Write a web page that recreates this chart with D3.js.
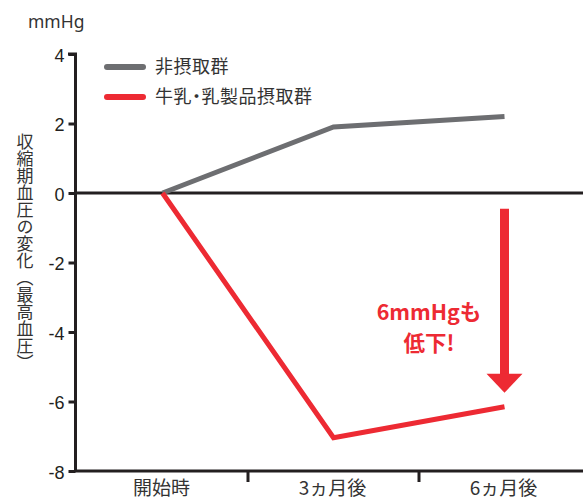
<!DOCTYPE html>
<html><head><meta charset="utf-8">
<script src="https://cdn.jsdelivr.net/npm/d3@7"></script>
<style>
html,body{margin:0;padding:0;background:#fff;}
svg{display:block;font-family:"Noto Sans CJK JP","Noto Sans",sans-serif;}
</style></head>
<body>
<svg id="c" width="583" height="501"></svg>
<script>
const categories = ["開始時", "3ヵ月後", "6ヵ月後"];
const seriesNames = ["非摂取群", "牛乳・乳製品摂取群"];
const nonIntake = [0, 1.9, 2.2];
const dairyIntake = [0, -7.04, -6.15];
const yTicks = [4, 2, 0, -2, -4, -6, -8];
const unitLabel = "mmHg";
const yTitle = "収縮期血圧の変化（最高血圧）";
const noteLines = ["6mmHgも", "低下!"];

const colors = ["#6d6e71", "#ed2a33"];
const dark = "#231f20";

const svg = d3.select("#c");
const x = d3.scaleBand().domain(categories).range([77, 590]).paddingInner(0).paddingOuter(0);
const y = d3.scaleLinear().domain([-8, 4]).range([471, 54]);
const xc = c => x(c) + x.bandwidth() / 2;

// zero line
svg.append("line").attr("x1", 75).attr("x2", 583)
  .attr("y1", y(0)).attr("y2", y(0)).attr("stroke", dark).attr("stroke-width", 3);

// y axis
const yAxis = d3.axisLeft(y).tickValues(yTicks).tickSize(7).tickPadding(4).tickFormat(d => String(d));
const gy = svg.append("g").attr("transform", "translate(75.5,0)").call(yAxis);
gy.select(".domain").remove();
gy.selectAll(".tick line").attr("stroke", dark).attr("stroke-width", 3);
gy.selectAll(".tick text").attr("fill", dark).attr("font-size", 18)
  .attr("font-family", "'Liberation Sans', Arial, sans-serif").attr("dy", "0.4em");
svg.append("path").attr("d", `M${68},${y(4)}H75.5V${y(-8) + 1}`)
  .attr("fill", "none").attr("stroke", dark).attr("stroke-width", 3);

// x axis
const gx = svg.append("g").attr("transform", `translate(0,${y(-8)})`);
gx.append("line").attr("x1", 75).attr("x2", 583).attr("stroke", dark).attr("stroke-width", 3);
gx.selectAll(".tk").data(categories.slice(1)).enter().append("line")
  .attr("x1", d => x(d)).attr("x2", d => x(d)).attr("y1", 0).attr("y2", 11)
  .attr("stroke", dark).attr("stroke-width", 3);
gx.selectAll(".lb").data(categories).enter().append("text")
  .attr("x", d => xc(d) - 1).attr("y", 24).attr("text-anchor", "middle")
  .attr("font-size", 19).attr("fill", "#333").text(d => d);

// unit
svg.append("text").attr("x", 28).attr("y", 28).attr("font-size", 17.5)
  .attr("font-family", "'Noto Sans', sans-serif").attr("fill", "#333").text(unitLabel);

// y title (vertical)
svg.append("text").attr("x", 25).attr("y", 133)
  .attr("writing-mode", "vertical-rl").style("writing-mode", "vertical-rl")
  .attr("font-size", 17).attr("fill", "#333").text(yTitle);

// lines
const line = d3.line().x((d, i) => xc(categories[i])).y(d => y(d));
[nonIntake, dairyIntake].forEach((s, i) => {
  svg.append("path").datum(s).attr("d", line).attr("fill", "none")
    .attr("stroke", colors[i]).attr("stroke-width", 5).attr("stroke-linejoin", "miter");
});

// legend
const lg = svg.append("g");
seriesNames.forEach((n, i) => {
  const yy = 67 + i * 30;
  lg.append("line").attr("x1", 107).attr("x2", 143).attr("y1", yy).attr("y2", yy)
    .attr("stroke", colors[i]).attr("stroke-width", 6).attr("stroke-linecap", "round");
  lg.append("text").attr("x", 155).attr("y", yy + 6).attr("font-size", 18)
    .style("font-feature-settings", "'palt'").attr("letter-spacing", 0.5)
    .attr("fill", "#333").text(n);
});

// annotation arrow
const ax = xc(categories[2]);
const y0 = y(-0.45), yTip = y(-5.75), headLen = 19;
svg.append("line").attr("x1", ax).attr("x2", ax).attr("y1", y0).attr("y2", yTip - headLen + 1)
  .attr("stroke", colors[1]).attr("stroke-width", 9);
svg.append("path").attr("d", `M${ax - 18},${yTip - headLen}L${ax + 18},${yTip - headLen}L${ax},${yTip}Z`)
  .attr("fill", colors[1]);
noteLines.forEach((t, i) => {
  svg.append("text").attr("x", 429).attr("y", 320 + i * 31).attr("text-anchor", "middle")
    .attr("font-size", 21.5).attr("font-weight", "bold").attr("fill", colors[1]).text(t);
});
</script>
</body></html>
